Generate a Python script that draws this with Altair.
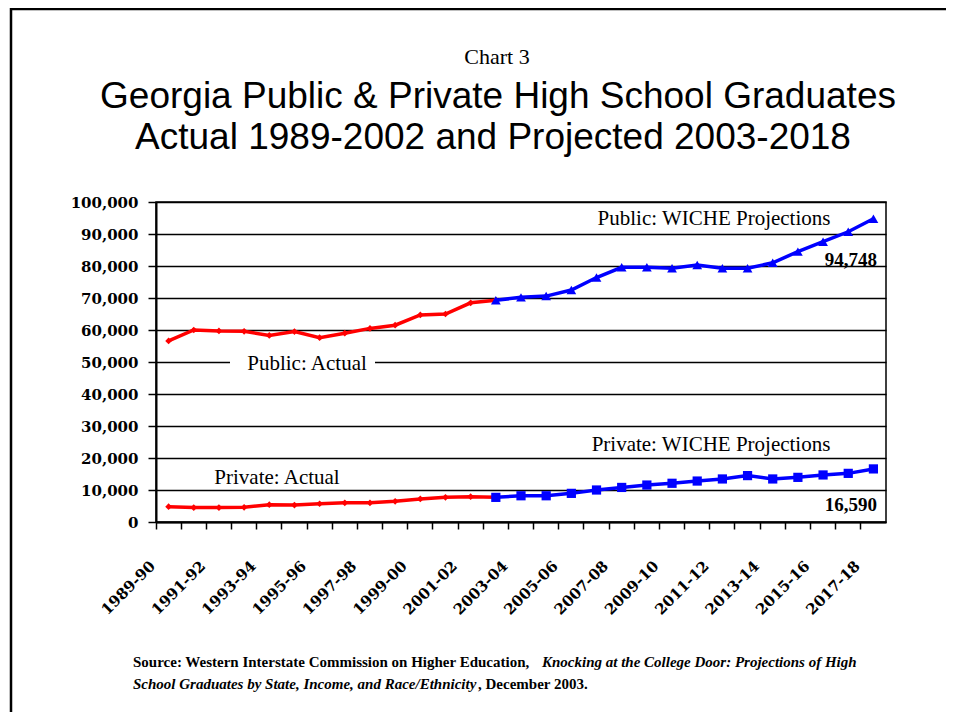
import altair as alt
import pandas as pd

years = ["1989-90", "1990-91", "1991-92", "1992-93", "1993-94", "1994-95", "1995-96",
         "1996-97", "1997-98", "1998-99", "1999-00", "2000-01", "2001-02", "2002-03",
         "2003-04", "2004-05", "2005-06", "2006-07", "2007-08", "2008-09", "2009-10",
         "2010-11", "2011-12", "2012-13", "2013-14", "2014-15", "2015-16", "2016-17",
         "2017-18"]

public_actual = [56600, 60000, 59700, 59600, 58300, 59500, 57600, 59000, 60500, 61500,
                 64700, 65000, 68500, 69300]
public_proj = [69300, 70200, 70600, 72500, 76400, 79600, 79600, 79300, 80300, 79300,
               79300, 81000, 84500, 87600, 90700, 94748]
private_actual = [4800, 4500, 4500, 4600, 5400, 5300, 5700, 6000, 6000, 6450, 7200,
                  7700, 7900, 7700]
private_proj = [7700, 8200, 8200, 8950, 10000, 10800, 11550, 12100, 12800, 13450, 14500,
                13450, 13950, 14700, 15200, 16590]
y_ticks = [0, 10000, 20000, 30000, 40000, 50000, 60000, 70000, 80000, 90000, 100000]

SERIF = "Liberation Serif"
WIDE_SERIF = "DejaVu Serif"
SANS = "Liberation Sans"


def frame(vals, start):
    return pd.DataFrame({"year": years[start:start + len(vals)], "value": vals})


x_enc = alt.X(
    "year:N",
    bandPosition=0.5,
    sort=years,
    scale=alt.Scale(type="band", domain=years, paddingInner=0, paddingOuter=0),
    axis=alt.Axis(
        title=None, bandPosition=0, labelAngle=315, labelAlign="right",
        labelBaseline="middle", labelPadding=34, labelOffset=-16,
        labelFont=WIDE_SERIF, labelFontSize=15, labelFontWeight="bold", labelColor="black",
        labelExpr="toNumber(substring(datum.value, 0, 4)) % 2 == 1 ? datum.label : ''",
        tickSize=7, tickColor="black", tickWidth=1.5, domainColor="black",
        domainWidth=2, grid=False, labelOverlap=False,
    ),
)
y_enc = alt.Y(
    "value:Q",
    scale=alt.Scale(domain=[0, 100000], nice=False),
    axis=alt.Axis(
        title=None, values=y_ticks,
        labelExpr="format(datum.value, ',.0f')",
        labelFont=WIDE_SERIF, labelFontSize=15, labelFontWeight="bold",
        labelColor="black", labelPadding=10, tickSize=8,
        tickColor="black", tickWidth=1.5, domainColor="black", domainWidth=2,
        grid=True, gridColor="black", gridWidth=1.5, gridOpacity=1,
    ),
)


def series(vals, start, color, shape, size):
    base = alt.Chart(frame(vals, start)).encode(x=x_enc, y=y_enc)
    line = base.mark_line(color=color, strokeWidth=3.5)
    pts = base.mark_point(shape=shape, filled=True, color=color, size=size, opacity=1)
    return line + pts


def label(text, x, y, size=21, weight="normal", align="center", font=SERIF,
          style="normal"):
    return alt.Chart(pd.DataFrame({"t": [text]})).mark_text(
        font=font, fontSize=size, fontWeight=weight, align=align, fontStyle=style,
        baseline="middle", color="black",
    ).encode(x=alt.value(x), y=alt.value(y), text="t:N")


white_box = alt.Chart(pd.DataFrame({"a": [0]})).mark_rect(color="white").encode(
    x=alt.value(74), x2=alt.value(219), y=alt.value(153), y2=alt.value(171)
)

border_left = alt.Chart(pd.DataFrame({"a": [0]})).mark_rule(color="black", strokeWidth=2.5).encode(
    x=alt.value(-145), y=alt.value(-194), y2=alt.value(540)
)
border_top = alt.Chart(pd.DataFrame({"a": [0]})).mark_rule(color="black", strokeWidth=2.5).encode(
    x=alt.value(-146), x2=alt.value(820), y=alt.value(-193)
)

layers = [
    series(public_actual, 0, "#ff0000", "diamond", 45),
    series(private_actual, 0, "#ff0000", "diamond", 45),
    series(public_proj, 13, "#0000ff", "triangle-up", 95),
    series(private_proj, 13, "#0000ff", "square", 85),
    white_box,
    label("Public: Actual", 151, 162),
    label("Private: Actual", 121, 276),
    label("Public: WICHE Projections", 558, 17),
    label("Private: WICHE Projections", 555, 243),
    label("94,748", 721, 58, size=19, weight="bold", align="right"),
    label("16,590", 721, 303, size=19, weight="bold", align="right"),
    label("Chart 3", 341, -145, size=22),
    label("Georgia Public & Private High School Graduates", 342, -105, size=37, font=SANS),
    label("Actual 1989-2002 and Projected 2003-2018", 337, -64, size=37, font=SANS),
    label("Source:  Western Interstate Commission on Higher Education,", -23, 460,
          size=15, weight="bold", align="left"),
    label("Knocking at the College Door:  Projections of High", 386, 460,
          size=15, weight="bold", align="left", style="italic"),
    label("School Graduates by State, Income, and Race/Ethnicity", -23, 482,
          size=15, weight="bold", align="left", style="italic"),
    label(", December 2003.", 322, 482, size=15, weight="bold", align="left"),
    border_left,
    border_top,
]

chart = alt.layer(*layers).properties(
    width=730, height=320,
    autosize=alt.AutoSizeParams(type="none"),
    padding={"left": 148, "top": 194, "right": 60, "bottom": 190},
    background="white",
).configure_view(stroke="black", strokeWidth=1.5)

chart.save("out.html", embed_options={"renderer": "svg", "actions": False})
